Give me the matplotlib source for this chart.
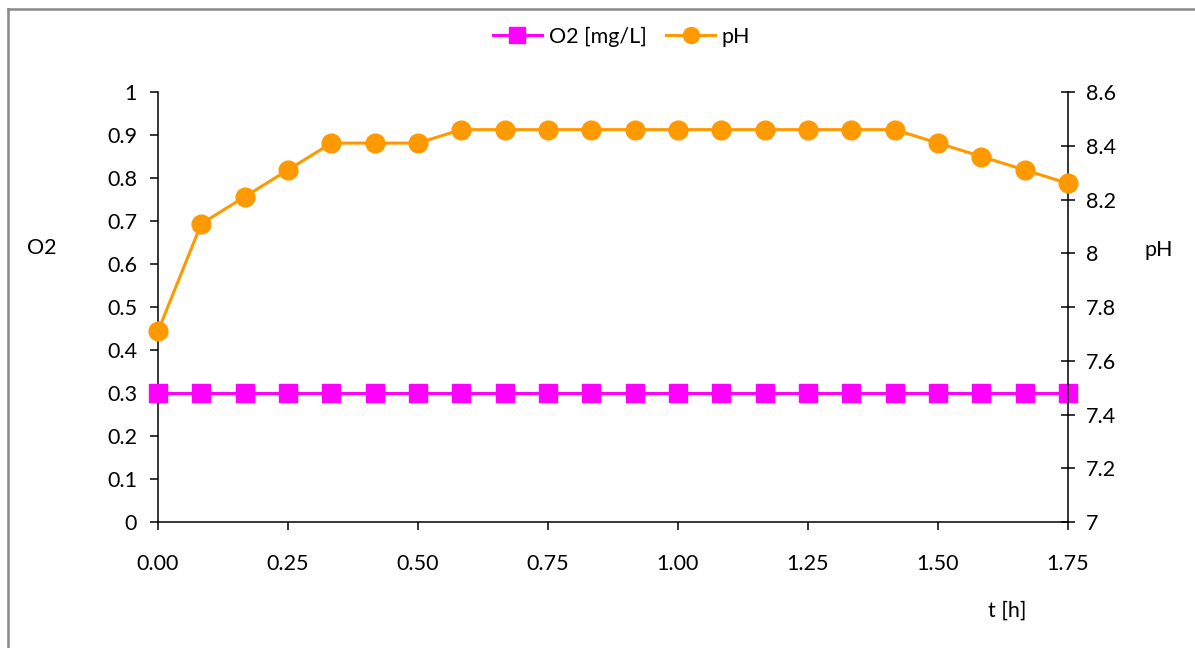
import numpy as np
import matplotlib
matplotlib.use('Agg')
import matplotlib.pyplot as plt
from matplotlib.lines import Line2D

plt.rcParams['font.family'] = ['Lato', 'DejaVu Sans']

# time in hours, one reading every 5 minutes
t_h = np.arange(22) / 12.0
o2 = [0.3] * 22
ph = [7.71, 8.11, 8.21, 8.31, 8.41, 8.41, 8.41,
      8.46, 8.46, 8.46, 8.46, 8.46, 8.46, 8.46, 8.46, 8.46, 8.46, 8.46,
      8.41, 8.36, 8.31, 8.26]
x_ticks = [0, 0.25, 0.5, 0.75, 1.0, 1.25, 1.5, 1.75]

fig = plt.figure(figsize=(11.95, 6.48), dpi=100)
ax = fig.add_axes([0.1322, 0.1944, 0.7615, 0.6636])
ax2 = ax.twinx()

l1, = ax.plot(t_h, o2, color='#FF00FF', lw=2.2, marker='s', ms=13,
              clip_on=False, label='O2 [mg/L]', zorder=3)
l2, = ax2.plot(t_h, ph, color='#FF9900', lw=2.2, marker='o', ms=13.5,
               clip_on=False, label='pH', zorder=3)

ax.set_xlim(0, 1.75)
ax.set_ylim(0, 1)
ax2.set_ylim(7, 8.6)
ax.set_xticks(x_ticks)
ax.set_xticklabels(['%.2f' % v for v in x_ticks])
ax.set_yticks(np.arange(0, 1.01, 0.1))
ax.set_yticklabels(['0', '0.1', '0.2', '0.3', '0.4', '0.5', '0.6', '0.7', '0.8', '0.9', '1'])
ax2.set_yticks([7, 7.2, 7.4, 7.6, 7.8, 8, 8.2, 8.4, 8.6])
ax2.set_yticklabels(['7', '7.2', '7.4', '7.6', '7.8', '8', '8.2', '8.4', '8.6'])

for a in (ax, ax2):
    a.spines['top'].set_visible(False)
    for s in a.spines.values():
        s.set_linewidth(1.1)
        s.set_color('black')
ax.spines['right'].set_visible(False)
ax2.spines['left'].set_visible(False)
ax2.spines['bottom'].set_visible(False)

fs = 15.5
ax.tick_params(axis='y', direction='out', length=6, width=1.1, pad=9, labelsize=fs)
ax.tick_params(axis='x', direction='out', length=6, width=1.1, pad=17, labelsize=fs)
ax2.tick_params(axis='y', direction='inout', length=10, width=1.1, pad=8, labelsize=fs)

fig.text(0.023, 0.617, 'O2', fontsize=fs, va='center', ha='left')
fig.text(0.982, 0.614, 'pH', fontsize=fs, va='center', ha='right')
fig.text(0.843, 0.057, 't [h]', fontsize=fs, va='center', ha='center')

fig.legend(handles=[l1, l2], loc='center', bbox_to_anchor=(0.52, 0.943), ncol=2,
           frameon=False, fontsize=fs, handlelength=2.3, columnspacing=0.9,
           handletextpad=0.3, markerscale=0.85)

# chart area border (left and top edges visible)
fig.add_artist(Line2D([0.0067, 0.0067], [0, 0.986], color='#888888', lw=1.8))
fig.add_artist(Line2D([0.0067, 1.0], [0.986, 0.986], color='#888888', lw=1.8))

fig.savefig('out.png', dpi=100)
